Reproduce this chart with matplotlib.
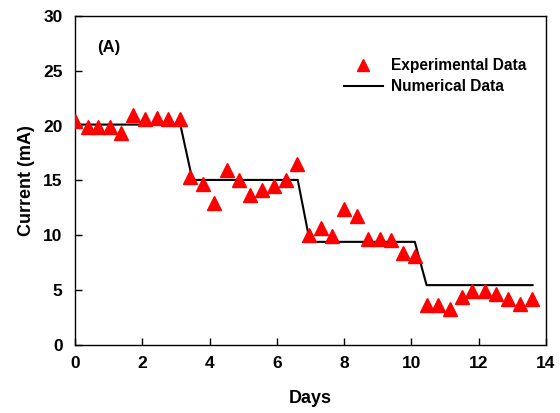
import matplotlib
matplotlib.use("Agg")
import matplotlib.pyplot as plt

plt.rcParams['font.family'] = ['Liberation Sans', 'DejaVu Sans']
plt.rcParams['font.weight'] = 'bold'

# Measured current over time
exp_days = [0.0, 0.39, 0.69, 1.04, 1.37, 1.73, 2.09, 2.44, 2.77, 3.13,
            3.43, 3.81, 4.14, 4.53, 4.86, 5.21, 5.57, 5.90, 6.26, 6.61,
            6.94, 7.30, 7.65, 8.00, 8.37, 8.70, 9.06, 9.38, 9.74, 10.10,
            10.46, 10.78, 11.14, 11.50, 11.80, 12.18, 12.50, 12.87, 13.22, 13.58]
exp_current = [20.4, 19.9, 19.9, 19.9, 19.3, 21.0, 20.6, 20.7, 20.6, 20.6,
               15.3, 14.7, 12.9, 16.0, 15.0, 13.7, 14.1, 14.5, 15.0, 16.5,
               10.0, 10.7, 9.9, 12.4, 11.8, 9.7, 9.7, 9.6, 8.4, 8.1,
               3.6, 3.6, 3.3, 4.4, 4.9, 4.9, 4.6, 4.2, 3.7, 4.2]

# Simulated current
num_days = [0.0, 3.13, 3.49, 6.62, 6.98, 10.10, 10.45, 13.60]
num_current = [20.1, 20.1, 15.05, 15.05, 9.4, 9.4, 5.45, 5.45]

x_ticks = [0, 2, 4, 6, 8, 10, 12, 14]
y_ticks = [0, 5, 10, 15, 20, 25, 30]

fig = plt.figure(figsize=(5.6, 4.13), dpi=100)
ax = fig.add_axes([0.134, 0.165, 0.841, 0.796])

ax.plot(num_days, num_current, color='black', lw=1.5, label='Numerical Data', zorder=2)
ax.plot(exp_days, exp_current, linestyle='none', marker='^', ms=10,
        color='red', markeredgecolor='red', label='Experimental Data', zorder=3)

ax.set_xlim(0, 14)
ax.set_ylim(0, 30)
ax.set_xticks(x_ticks)
ax.set_yticks(y_ticks)
ax.tick_params(direction='in', length=5, width=1, labelsize=12.5)
ax.tick_params(axis='x', pad=8)
ax.tick_params(axis='y', pad=9)
for lbl in ax.get_xticklabels() + ax.get_yticklabels():
    lbl.set_fontweight('bold')
for s in ax.spines.values():
    s.set_linewidth(1)

ax.set_xlabel('Days', fontsize=13, fontweight='bold', labelpad=14)
ax.set_ylabel('Current (mA)', fontsize=13, fontweight='bold', labelpad=6)

ax.text(0.072, 0.905, '(A)', transform=ax.transAxes, fontsize=12,
        fontweight='bold', ha='center', va='center')

handles, labels = ax.get_legend_handles_labels()
leg = ax.legend(handles[::-1], labels[::-1], loc='upper left',
                bbox_to_anchor=(0.541, 0.915), frameon=False, fontsize=11.2,
                markerscale=0.8, handlelength=2.5, handletextpad=0.55,
                labelspacing=0.4)
for t in leg.get_texts():
    t.set_fontweight('bold')

fig.savefig('out.png', dpi=100)
